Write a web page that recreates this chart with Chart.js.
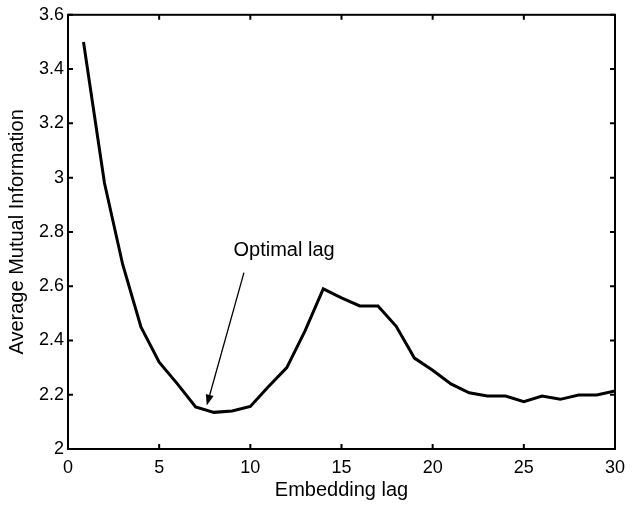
<!DOCTYPE html>
<html>
<head>
<meta charset="utf-8">
<script src="https://cdn.jsdelivr.net/npm/chart.js@4/dist/chart.umd.min.js"></script>
<style>
  html, body { margin: 0; padding: 0; background: #fff; }
  canvas { display: block; }
</style>
</head>
<body>
<canvas id="amiChart" width="634" height="508"></canvas>
<script>
// lag values and average mutual information
const lags = [0.85, 2, 3, 4, 5, 6, 7, 8, 9, 10, 11, 12, 13, 14, 15, 16, 17, 18, 19, 20, 21, 22, 23, 24, 25, 26, 27, 28, 29, 30];
const ami = [3.50, 2.98, 2.68, 2.45, 2.32, 2.24, 2.155, 2.135, 2.14, 2.157, 2.23, 2.30, 2.435, 2.59, 2.557, 2.527, 2.527, 2.452, 2.335, 2.29, 2.24, 2.207, 2.195, 2.195, 2.174, 2.195, 2.183, 2.199, 2.199, 2.214];

const xTicks = [0, 5, 10, 15, 20, 25, 30];
const yTicks = [2, 2.2, 2.4, 2.6, 2.8, 3, 3.2, 3.4, 3.6];

// annotation: label position and arrow (data coordinates)
const noteText = "Optimal lag";
const notePos = [11.85, 2.73];
const arrowFrom = [9.65, 2.65];
const arrowTo = [7.61, 2.16];

const FONT = "'Liberation Sans', Arial, Helvetica, sans-serif";

const frameAndNote = {
  id: "frameAndNote",
  beforeDraw(chart) {
    const c = chart.ctx;
    c.save();
    c.fillStyle = "#fff";
    c.fillRect(0, 0, chart.width, chart.height);
    c.restore();
  },
  afterDraw(chart) {
    const c = chart.ctx;
    const a = chart.chartArea;
    const xs = chart.scales.x, ys = chart.scales.y;
    c.save();
    c.strokeStyle = "#000";
    c.lineWidth = 2;
    c.strokeRect(a.left, a.top, a.right - a.left, a.bottom - a.top);

    // inward ticks on all four sides
    const tl = 5;
    c.beginPath();
    xTicks.forEach(v => {
      const px = xs.getPixelForValue(v);
      c.moveTo(px, a.bottom); c.lineTo(px, a.bottom - tl);
      c.moveTo(px, a.top); c.lineTo(px, a.top + tl);
    });
    yTicks.forEach(v => {
      const py = ys.getPixelForValue(v);
      c.moveTo(a.left, py); c.lineTo(a.left + tl, py);
      c.moveTo(a.right, py); c.lineTo(a.right - tl, py);
    });
    c.stroke();

    // label
    c.fillStyle = "#000";
    c.font = "20px " + FONT;
    c.textAlign = "center";
    c.textBaseline = "middle";
    c.fillText(noteText, xs.getPixelForValue(notePos[0]), ys.getPixelForValue(notePos[1]));

    // arrow
    const x0 = xs.getPixelForValue(arrowFrom[0]), y0 = ys.getPixelForValue(arrowFrom[1]);
    const x1 = xs.getPixelForValue(arrowTo[0]), y1 = ys.getPixelForValue(arrowTo[1]);
    const ang = Math.atan2(y1 - y0, x1 - x0);
    const hl = 11, hw = 4;
    const bx = x1 - hl * Math.cos(ang), by = y1 - hl * Math.sin(ang);
    c.lineWidth = 1.3;
    c.beginPath();
    c.moveTo(x0, y0);
    c.lineTo(bx, by);
    c.stroke();
    c.beginPath();
    c.moveTo(x1, y1);
    c.lineTo(bx + hw * Math.sin(ang), by - hw * Math.cos(ang));
    c.lineTo(bx - hw * Math.sin(ang), by + hw * Math.cos(ang));
    c.closePath();
    c.fill();
    c.restore();
  }
};

new Chart(document.getElementById("amiChart"), {
  type: "line",
  data: {
    datasets: [{
      data: lags.map((l, i) => ({ x: l, y: ami[i] })),
      borderColor: "#000",
      borderWidth: 3,
      pointRadius: 0,
      tension: 0,
      fill: false
    }]
  },
  options: {
    responsive: false,
    animation: false,
    events: [],
    layout: { padding: { top: 13, right: 19, bottom: 0, left: 0 } },
    plugins: { legend: { display: false }, tooltip: { enabled: false } },
    scales: {
      x: {
        type: "linear",
        min: 0, max: 30,
        afterFit: s => { s.height = 59; },
        afterBuildTicks: s => { s.ticks = xTicks.map(v => ({ value: v })); },
        grid: { display: false, drawTicks: false },
        border: { display: false },
        ticks: { color: "#000", font: { family: FONT, size: 18 }, padding: 8, maxRotation: 0 },
        title: { display: true, text: "Embedding lag", color: "#000", font: { family: FONT, size: 20 }, padding: { top: 0, bottom: 6 } }
      },
      y: {
        type: "linear",
        min: 2, max: 3.6,
        afterFit: s => { s.width = 68; },
        afterBuildTicks: s => { s.ticks = yTicks.map(v => ({ value: v })); },
        grid: { display: false, drawTicks: false },
        border: { display: false },
        ticks: {
          color: "#000", font: { family: FONT, size: 18 }, padding: 4,
          callback: v => String(Number(v.toFixed(1)))
        },
        title: { display: true, text: "Average Mutual Information", color: "#000", font: { family: FONT, size: 20 }, padding: { top: 5, bottom: 0 } }
      }
    }
  },
  plugins: [frameAndNote]
});
</script>
</body>
</html>
